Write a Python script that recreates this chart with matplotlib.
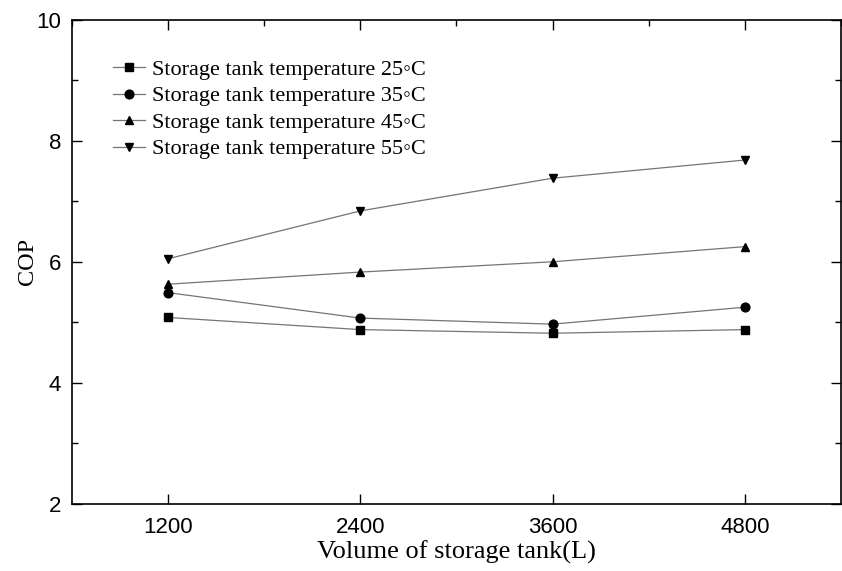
import matplotlib
matplotlib.use("Agg")
import matplotlib.pyplot as plt
from matplotlib.ticker import MultipleLocator

volumes = [1200, 2400, 3600, 4800]
cop_25 = [5.08, 4.88, 4.82, 4.88]
cop_35 = [5.49, 5.07, 4.97, 5.25]
cop_45 = [5.63, 5.83, 6.00, 6.25]
cop_55 = [6.05, 6.84, 7.38, 7.68]
labels = ["Storage tank temperature 25\u25e6C",
          "Storage tank temperature 35\u25e6C",
          "Storage tank temperature 45\u25e6C",
          "Storage tank temperature 55\u25e6C"]
markers = ["s", "o", "^", "v"]
x_ticks = [1200, 2400, 3600, 4800]
y_ticks = [2, 4, 6, 8, 10]

fig = plt.figure(figsize=(8.42, 5.71), dpi=100)
ax = fig.add_axes([0.0855, 0.1173, 0.9133, 0.8485])

serif = ["Liberation Serif", "DejaVu Serif"]
sans = "Liberation Sans"

for ys, m, lab in zip([cop_25, cop_35, cop_45, cop_55], markers, labels):
    ax.plot(volumes, ys, color="#747474", lw=0.9, marker=m, markersize=6.3,
            markerfacecolor="black", markeredgecolor="black", label=lab)

ax.set_xlim(600, 5400)
ax.set_ylim(2, 10)
ax.set_xticks(x_ticks)
ax.set_yticks(y_ticks)
ax.xaxis.set_minor_locator(MultipleLocator(600))
ax.yaxis.set_minor_locator(MultipleLocator(1))
ax.tick_params(which="both", direction="in", top=True, right=True, width=1.0, color="black")
ax.tick_params(axis="x", which="minor", bottom=False, top=True)
ax.tick_params(which="major", length=7)
ax.tick_params(which="minor", length=4)
ax.tick_params(axis="y", pad=8)
ax.tick_params(axis="x", pad=9)
for lbl in ax.get_xticklabels() + ax.get_yticklabels():
    lbl.set_fontfamily(sans)
    lbl.set_fontsize(16)
for s in ax.spines.values():
    s.set_linewidth(1.2)

ax.set_xlabel("Volume of storage tank(L)", fontfamily=serif, fontsize=19, labelpad=2.5)
ax.set_ylabel("COP", fontfamily=serif, fontsize=17.5, labelpad=-1.5)

leg = ax.legend(loc="upper left", bbox_to_anchor=(0.053, 0.918), frameon=False,
                prop={"family": serif, "size": 16}, handlelength=1.44,
                handletextpad=0.32, labelspacing=0.27, borderaxespad=0,
                borderpad=0)

fig.savefig("out.png", dpi=100)
